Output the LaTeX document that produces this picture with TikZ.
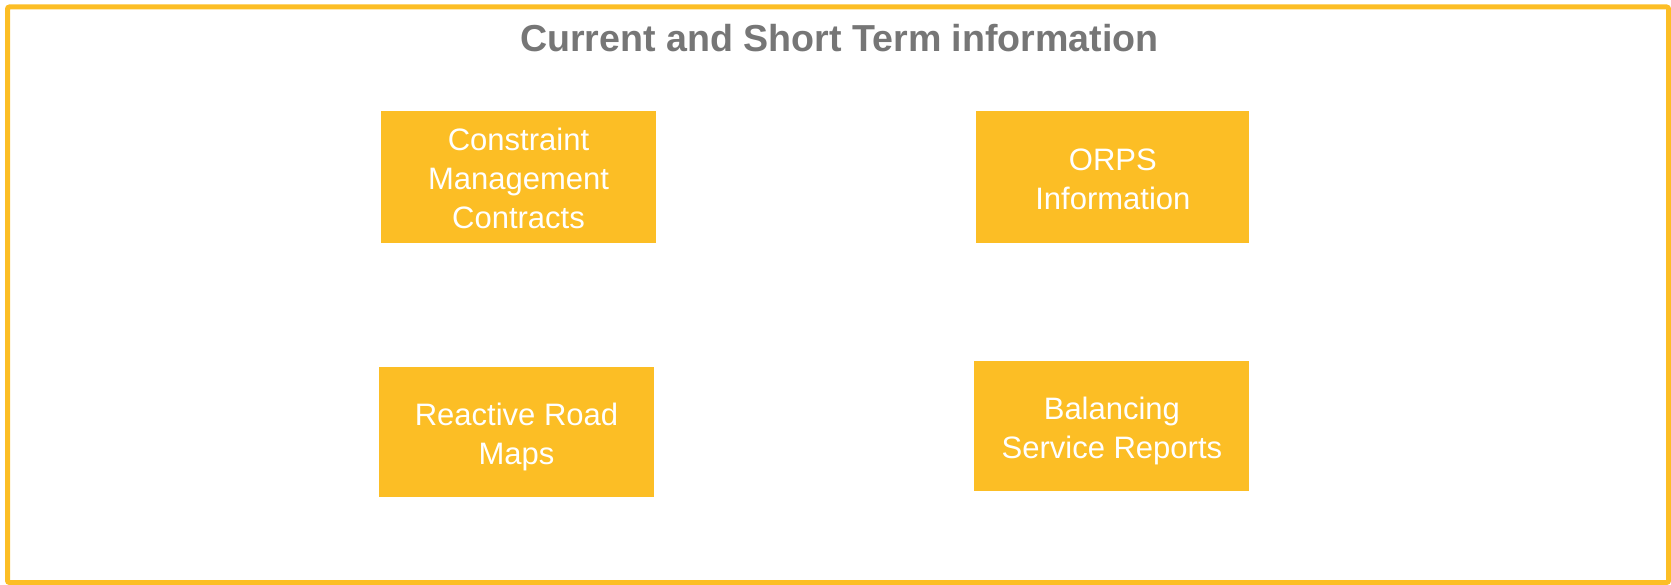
\documentclass[tikz,border=0pt]{standalone}
\usepackage{fontspec}
\setmainfont{Liberation Sans}
\usepackage{xcolor}
\usetikzlibrary{positioning}

\definecolor{infoyellow}{HTML}{FCBE25}
\definecolor{titlegray}{HTML}{767676}

% struts so every box centres its lines alike
\newcommand{\boxtop}{\rule{0pt}{33pt}}
\newcommand{\boxbot}{\rule[-7pt]{0pt}{7pt}}

\tikzset{
  infobox/.style={rectangle, fill=infoyellow, text=white, inner sep=0pt,
    minimum width=275pt, minimum height=132pt, align=center,
    font=\fontsize{31}{39}\selectfont},
  frame/.style={draw=infoyellow, line width=5pt, rounded corners=2pt}
}

\begin{document}
\begin{tikzpicture}[x=1pt, y=-1pt]
     \useasboundingbox (0,0) rectangle (1671,585);
     \draw[frame] (7.5,7) rectangle (1668.5,582.5);

     %nodes
     \node[anchor=base, text=titlegray, font=\fontsize{37.6}{44}\bfseries] (title) at (839.5,52) {Current and Short Term information};
     \node[infobox] (cmc) at (518.5,177) {\boxtop Constraint\\Management\\Contracts\boxbot};
     \node[infobox, minimum width=273pt, right=320pt of cmc] (orps) {\boxtop ORPS\\Information\boxbot};
     \node[infobox, minimum height=130pt, below=124pt of cmc, xshift=-2pt] (rrm) {\boxtop Reactive Road\\Maps\boxbot};
     \node[infobox, minimum height=130pt, below=118pt of orps, xshift=-1pt] (bsr) {\boxtop Balancing\\Service Reports\boxbot};
\end{tikzpicture}
\end{document}
